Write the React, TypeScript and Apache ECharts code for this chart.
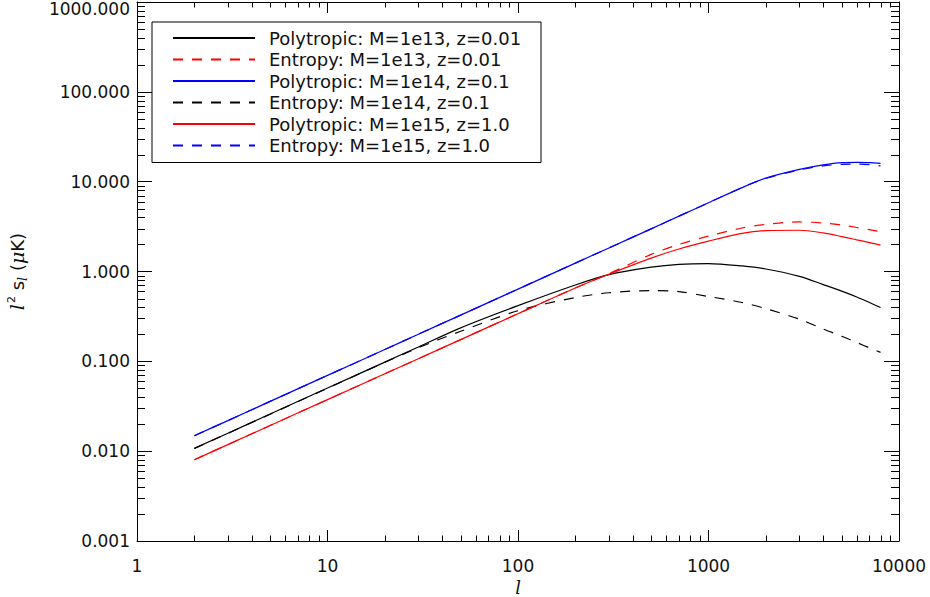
import React, { useEffect, useRef } from "react";
import * as echarts from "echarts";

// multipole l
const multipoles = [2, 3, 5, 10, 20, 30, 50, 100, 200, 300, 500, 700, 1000, 1500, 2000, 3000, 4000, 5000, 6000, 7000, 8000];

// l^2 s_l (muK) for each model
const polyM13 = [0.01074, 0.01585, 0.0259, 0.0504, 0.098, 0.1445, 0.236, 0.417, 0.708, 0.923, 1.117, 1.202, 1.225, 1.153, 1.067, 0.883, 0.715, 0.605, 0.521, 0.451, 0.398];
const entropyM13 = [0.00804, 0.01183, 0.0193, 0.0375, 0.0727, 0.107, 0.1746, 0.339, 0.656, 0.944, 1.55, 2.0, 2.48, 3.05, 3.35, 3.56, 3.47, 3.29, 3.09, 2.92, 2.77];
const polyM14 = [0.01486, 0.0219, 0.0358, 0.0697, 0.1355, 0.2004, 0.327, 0.637, 1.239, 1.828, 2.985, 4.13, 5.82, 8.59, 10.96, 13.7, 15.4, 16.3, 16.4, 16.3, 16.0];
const entropyM14 = [0.01072, 0.0158, 0.0258, 0.0502, 0.0975, 0.142, 0.216, 0.366, 0.513, 0.58, 0.614, 0.597, 0.527, 0.452, 0.386, 0.295, 0.229, 0.1905, 0.162, 0.141, 0.126];
const polyM15 = [0.00804, 0.01183, 0.0193, 0.0375, 0.0727, 0.107, 0.1746, 0.339, 0.656, 0.933, 1.41, 1.78, 2.18, 2.66, 2.85, 2.88, 2.69, 2.45, 2.25, 2.1, 1.97];
const entropyM15 = [0.01486, 0.0219, 0.0358, 0.0697, 0.1355, 0.2004, 0.327, 0.637, 1.239, 1.828, 2.985, 4.13, 5.82, 8.59, 10.9, 13.5, 15.0, 15.6, 15.7, 15.5, 15.0];

const seriesNames = [
  "Polytropic: M=1e13, z=0.01",
  "Entropy: M=1e13, z=0.01",
  "Polytropic: M=1e14, z=0.1",
  "Entropy: M=1e14, z=0.1",
  "Polytropic: M=1e15, z=1.0",
  "Entropy: M=1e15, z=1.0",
];
const seriesValues = [polyM13, entropyM13, polyM14, entropyM14, polyM15, entropyM15];
const seriesColors = ["#000000", "#ff0000", "#0000ff", "#000000", "#ff0000", "#0000ff"];
const seriesDashed = [false, true, false, true, false, true];

// axis extents / tick decades
const xMin = 1;
const xMax = 10000;
const yMin = 0.001;
const yMax = 1000;
const xDecades = [1, 10, 100, 1000];
const yDecades = [0.001, 0.01, 0.1, 1, 10, 100];
const minorMultipliers = [2, 3, 4, 5, 6, 7, 8, 9];

const FONT = "'DejaVu Sans', sans-serif";
const TEXT = "#111";

export default function App() {
  const ref = useRef<HTMLDivElement>(null);

  useEffect(() => {
    if (!ref.current) return;
    const chart = echarts.init(ref.current, undefined, { renderer: "svg" });

    const minorData: number[][] = [];
    xDecades.forEach((d) => minorMultipliers.forEach((m) => minorData.push([d * m, 1, 0])));
    yDecades.forEach((d) => minorMultipliers.forEach((m) => minorData.push([1, d * m, 1])));

    const lineSeries = seriesNames.map((name, i) => ({
      name,
      type: "line",
      xAxisIndex: 0,
      yAxisIndex: 0,
      data: multipoles.map((l, k) => [l, seriesValues[i][k]]),
      symbol: "none",
      showSymbol: false,
      smooth: 0.3,
      lineStyle: {
        color: seriesColors[i],
        width: 1.2,
        type: seriesDashed[i] ? [10, 9] : "solid",
      },
      itemStyle: { color: seriesColors[i] },
      z: 3,
    }));

    const axisLine = { show: true, lineStyle: { color: "#000", width: 1 } };

    chart.setOption({
      animation: false,
      backgroundColor: "#ffffff",
      grid: { left: 137, right: 31, top: 2, bottom: 56, outerBoundsMode: "none", containLabel: false },
      legend: {
        data: seriesNames,
        orient: "vertical",
        left: 152,
        top: 22,
        padding: [7, 10, 8, 20],
        itemGap: 3.5,
        itemWidth: 82,
        itemHeight: 14,
        borderColor: "#000",
        borderWidth: 1,
        backgroundColor: "#fff",
        selectedMode: false,
        itemStyle: { opacity: 0, borderWidth: 0 },
        textStyle: {
          fontFamily: FONT,
          fontSize: 18,
          color: TEXT,
          lineHeight: 18,
          width: 262,
          padding: [0, 0, 0, 9],
        },
      },
      xAxis: [
        {
          type: "log",
          logBase: 10,
          min: xMin,
          max: xMax,
          position: "bottom",
          axisLine,
          axisTick: { show: true, inside: true, length: 11, lineStyle: { color: "#000" } },
          splitLine: { show: false },
          axisLabel: {
            margin: 16,
            fontFamily: FONT,
            fontSize: 17,
            color: TEXT,
            formatter: (v: number) => String(Math.round(v)),
          },
          name: "l",
          nameLocation: "middle",
          nameGap: 30,
          nameTextStyle: { fontFamily: "'DejaVu Serif', serif", fontStyle: "italic", fontSize: 18, color: TEXT },
        },
        {
          type: "log",
          logBase: 10,
          min: xMin,
          max: xMax,
          position: "top",
          axisLine,
          axisTick: { show: true, inside: true, length: 11, lineStyle: { color: "#000" } },
          axisLabel: { show: false },
          splitLine: { show: false },
        },
      ],
      yAxis: [
        {
          type: "log",
          logBase: 10,
          min: yMin,
          max: yMax,
          position: "left",
          axisLine,
          axisTick: { show: true, inside: true, length: 15, lineStyle: { color: "#000" } },
          splitLine: { show: false },
          axisLabel: {
            margin: 7,
            fontFamily: FONT,
            fontSize: 17,
            color: TEXT,
            formatter: (v: number) => {
              const s = Number(v).toFixed(3);
              return v > 500 ? "{t|" + s + "}" : s;
            },
            rich: {
              t: { fontFamily: FONT, fontSize: 17, color: TEXT, padding: [14, 0, 0, 0] },
            },
          },
          name: "{i|l}{sup|2}{n| s}{sub|l}{n| (}{i|μ}{n|K)}",
          nameLocation: "middle",
          nameGap: 107,
          nameTextStyle: {
            fontFamily: FONT,
            fontSize: 18,
            color: TEXT,
            rich: {
              i: { fontFamily: "'DejaVu Serif', serif", fontStyle: "italic", fontSize: 19, color: TEXT, lineHeight: 26, verticalAlign: "middle" },
              n: { fontFamily: FONT, fontSize: 18, color: TEXT, lineHeight: 26, verticalAlign: "middle" },
              sup: { fontFamily: FONT, fontSize: 11, color: TEXT, lineHeight: 26, verticalAlign: "top", padding: [2, 0, 0, 1] },
              sub: { fontFamily: "'DejaVu Serif', serif", fontStyle: "italic", fontSize: 13, color: TEXT, lineHeight: 26, verticalAlign: "bottom", padding: [0, 0, 1, 0] },
            },
          },
        },
        {
          type: "log",
          logBase: 10,
          min: yMin,
          max: yMax,
          position: "right",
          axisLine,
          axisTick: { show: true, inside: true, length: 15, lineStyle: { color: "#000" } },
          axisLabel: { show: false },
          splitLine: { show: false },
        },
      ],
      series: [
        ...lineSeries,
        {
          type: "custom",
          xAxisIndex: 0,
          yAxisIndex: 0,
          silent: true,
          clip: false,
          z: 2,
          data: minorData,
          encode: { x: 0, y: 1 },
          renderItem: (params: any, api: any) => {
            const cs = params.coordSys;
            const kind = api.value(2);
            const style = { stroke: "#000", lineWidth: 1 };
            if (kind === 0) {
              const px = Math.round(api.coord([api.value(0), 1])[0]) + 0.5;
              const yb = cs.y + cs.height;
              return {
                type: "group",
                children: [
                  { type: "line", shape: { x1: px, y1: yb, x2: px, y2: yb - 5.5 }, style },
                  { type: "line", shape: { x1: px, y1: cs.y, x2: px, y2: cs.y + 5.5 }, style },
                ],
              };
            }
            const py = Math.round(api.coord([1, api.value(1)])[1]) + 0.5;
            const xr = cs.x + cs.width;
            return {
              type: "group",
              children: [
                { type: "line", shape: { x1: cs.x, y1: py, x2: cs.x + 8, y2: py }, style },
                { type: "line", shape: { x1: xr, y1: py, x2: xr - 8, y2: py }, style },
              ],
            };
          },
        },
      ],
    });

    return () => chart.dispose();
  }, []);

  return <div ref={ref} style={{ width: 930, height: 597, position: "absolute", left: 0, top: 0, background: "#fff" }} />;
}
